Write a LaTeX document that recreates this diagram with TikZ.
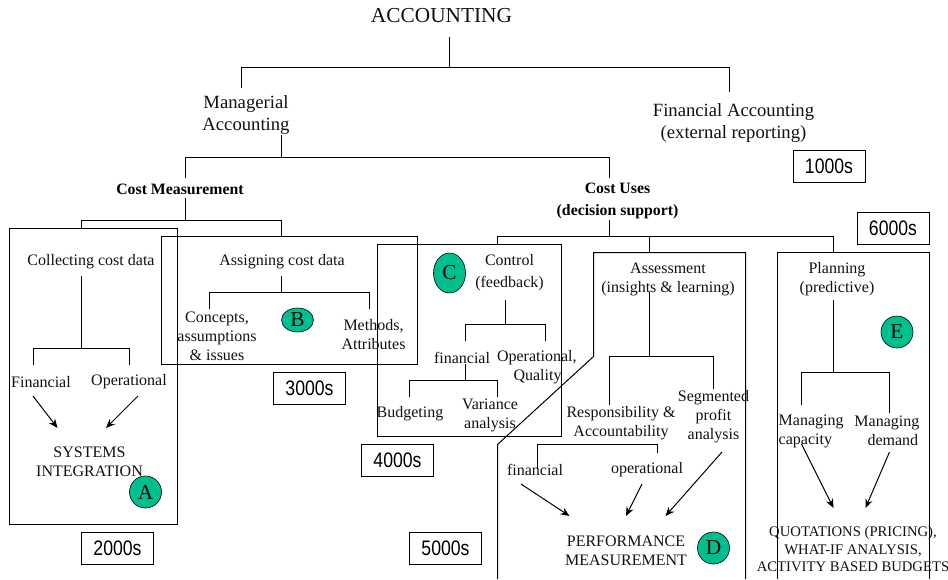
\documentclass[tikz,border=0pt]{standalone}
\usepackage{fontspec}
\setmainfont{Liberation Serif}
\newfontfamily\labelfont[FakeStretch=0.84]{Liberation Sans}
\usetikzlibrary{arrows.meta,shapes.geometric}
\definecolor{tealgreen}{HTML}{00BF8F}
\definecolor{inkc}{HTML}{111111}
\tikzset{
  txt/.style={inner sep=0pt,yshift=-1.7pt,align=center,text=inkc,font=\fontsize{16}{19}\selectfont},
  txtsm/.style={inner sep=0pt,yshift=-1pt,align=center,text=inkc,font=\fontsize{14.67}{17.5}\selectfont},
  txtlg/.style={inner sep=0pt,yshift=-2pt,align=center,text=inkc,font=\fontsize{18.67}{22}\selectfont},
  txtbold/.style={inner sep=0pt,yshift=-1.5pt,align=center,text=black,font=\fontsize{15.8}{22}\selectfont\bfseries},
  codebox/.style={draw=black,line width=1pt,minimum width=72pt,minimum height=32pt,inner sep=0pt,font=\labelfont\fontsize{21}{24}\selectfont},
  badge/.style={draw=black,fill=tealgreen,ellipse,inner sep=0pt,line width=.6pt,font=\fontsize{21.33}{24}\selectfont},
  ln/.style={draw=black,line width=1pt},
  arr/.style={draw=black,line width=1pt,-{Stealth[length=9pt,width=7.5pt]}},
  frame/.style={draw=black,line width=1pt}
}
\begin{document}
\begin{tikzpicture}[x=1pt,y=-1pt]
\useasboundingbox (0,0) rectangle (948,579);
% frames
\node[frame,minimum width=168pt,minimum height=295.5pt,inner sep=0pt] (boxA) at (93.5,376.25) {};
\node[frame,minimum width=256pt,minimum height=127.5pt,inner sep=0pt] (boxB) at (289.5,300.25) {};
\node[frame,minimum width=184pt,minimum height=191.5pt,inner sep=0pt] (boxC) at (469.5,340.25) {};
\coordinate (dA) at (497.5,579); \coordinate (dB) at (497.5,444.5); \coordinate (dC) at (593.5,356.5);
\coordinate (dD) at (593.5,252.5); \coordinate (dE) at (745.5,252.5); \coordinate (dF) at (745.5,579);
\draw[frame] (dA) -- (dB) -- (dC) -- (dD) -- (dE) -- (dF);
\coordinate (eA) at (777.5,579); \coordinate (eB) at (777.5,252.5); \coordinate (eC) at (929.5,252.5); \coordinate (eD) at (929.5,579);
\draw[frame] (eA) -- (eB) -- (eC) -- (eD);
% texts
\node[inner sep=0pt,yshift=-1pt,text=inkc,font=\fontsize{21.33}{24}\selectfont] (acc) at (441.5,15) {ACCOUNTING};
\node[txtlg] (man) at (246,113) {Managerial\\Accounting};
\node[txtlg] (fin) at (733.5,121) {Financial Accounting\\(external reporting)};
\node[txtbold] (cm) at (180,188) {Cost Measurement};
\node[txtbold] (cu) at (617.5,199) {Cost Uses\\(decision support)};
\node[txt] (coll) at (91,260) {Collecting cost data};
\node[txt] (assg) at (282,260) {Assigning cost data};
\node[txt] (conc) at (217,335) {Concepts,\\assumptions\\\& issues};
\node[txt] (meth) at (373.5,333) {Methods,\\Attributes};
\node[txt] (finA) at (41,380) {Financial};
\node[txt] (opA) at (129,380) {Operational};
\node[txt] (sys) at (89.5,460.5) {SYSTEMS\\INTEGRATION};
\node[txt] (ctl) at (509.5,271) {Control\\[3pt](feedback)};
\node[txt] (finC) at (462,356) {financial};
\node[txt] (opC) at (527,365.5) {\hphantom{Qu}Operational,\\\hspace*{21pt}Quality};
\node[txt] (bud) at (410,412) {Budgeting};
\node[txt] (var) at (490,413.5) {Variance\\analysis};
\node[txt] (ass) at (668,277.5) {Assessment\\(insights \& learning)};
\node[txt] (plan) at (837,277.5) {Planning\\(predictive)};
\node[txt] (resp) at (621,421.5) {Responsibility \&\\Accountability};
\node[txt] (seg) at (713.5,415) {Segmented\\profit\\analysis};
\node[txt] (finD) at (535,468) {financial};
\node[txt] (opD) at (647,468) {operational};
\node[txt] (perf) at (626,549.5) {PERFORMANCE\\MEASUREMENT};
\node[txt,anchor=west] (mgc) at (778.5,429.5) {\parbox{60pt}{Managing\\capacity}};
\node[txt,anchor=east] (mgd) at (919.5,429.5) {Managing\\\hspace*{12pt}demand};
\node[txtsm] (quo) at (853,548.5) {QUOTATIONS (PRICING),\\WHAT-IF ANALYSIS,\\ACTIVITY BASED BUDGETS};
% code boxes
\node[codebox] (k1) at (829,166.5) {1000s};
\node[codebox] (k2) at (117.5,548) {2000s};
\node[codebox] (k3) at (309.5,388.5) {3000s};
\node[codebox] (k4) at (397.5,460.5) {4000s};
\node[codebox] (k5) at (445.5,548) {5000s};
\node[codebox] (k6) at (893,228) {6000s};
% badges
\node[badge,minimum width=32pt,minimum height=32pt] (A) at (145.5,492) {A};
\node[badge,minimum width=32pt,minimum height=24pt] (B) at (297.5,320) {B};
\node[badge,minimum width=32pt,minimum height=40pt] (C) at (449.5,273) {C};
\node[badge,minimum width=32pt,minimum height=32pt] (D) at (713.5,548) {D};
\node[badge,minimum width=32pt,minimum height=32pt] (E) at (897,332) {E};
% tree: top
\coordinate (t0) at (449.5,37); \coordinate (t1) at (449.5,67.5);
\coordinate (t2) at (241.5,88); \coordinate (t3) at (729.5,92);
\draw[ln] (t0) -- (t1);
\draw[ln] (t2) |- (t1) -| (t3);
\coordinate (m0) at (281.5,135); \coordinate (m1) at (281.5,157.5);
\coordinate (m2) at (185.5,178); \coordinate (m3) at (609.5,178);
\draw[ln] (m0) -- (m1);
\draw[ln] (m2) |- (m1) -| (m3);
\coordinate (c0) at (185.5,198); \coordinate (c1) at (185.5,220.5);
\coordinate (c2) at (81.5,228.5); \coordinate (c3) at (281.5,236.5);
\draw[ln] (c0) -- (c1);
\draw[ln] (c2) |- (c1) -| (c3);
\coordinate (u0) at (609.5,220); \coordinate (u1) at (609.5,236.5);
\coordinate (u2) at (497.5,244.5); \coordinate (u3) at (649.5,236.5); \coordinate (u4) at (649.5,252.5); \coordinate (u5) at (833.5,252.5);
\draw[ln] (u0) -- (u1);
\draw[ln] (u2) |- (u1) -| (u5);
\draw[ln] (u3) -- (u4);
% collecting
\coordinate (a0) at (81.5,276); \coordinate (a1) at (81.5,348.5);
\coordinate (a2) at (33.5,364.5); \coordinate (a3) at (129.5,364.5);
\draw[ln] (a0) -- (a1);
\draw[ln] (a2) |- (a1) -| (a3);
\coordinate (a4) at (33,396); \coordinate (a5) at (57.5,428);
\coordinate (a6) at (138,396); \coordinate (a7) at (106,428);
\draw[arr] (a4) -- (a5);
\draw[arr] (a6) -- (a7);
% assigning
\coordinate (b0) at (281.5,276); \coordinate (b1) at (281.5,292.5);
\coordinate (b2) at (209.5,308.5); \coordinate (b3) at (369.5,308.5);
\draw[ln] (b0) -- (b1);
\draw[ln] (b2) |- (b1) -| (b3);
% control
\coordinate (g0) at (505.5,300); \coordinate (g1) at (505.5,324.5);
\coordinate (g2) at (465.5,340.5); \coordinate (g3) at (545.5,340.5);
\draw[ln] (g0) -- (g1);
\draw[ln] (g2) |- (g1) -| (g3);
\coordinate (h0) at (465.5,364); \coordinate (h1) at (465.5,380.5);
\coordinate (h2) at (409.5,396.5); \coordinate (h3) at (497.5,396.5);
\draw[ln] (h0) -- (h1);
\draw[ln] (h2) |- (h1) -| (h3);
% assessment
\coordinate (i0) at (649.5,292); \coordinate (i1) at (649.5,356.5);
\coordinate (i2) at (609.5,404.5); \coordinate (i3) at (713.5,388.5);
\draw[ln] (i0) -- (i1);
\draw[ln] (i2) |- (i1) -| (i3);
\coordinate (j1) at (537.5,468.5); \coordinate (j2) at (657.5,452.5); \coordinate (j3) at (597.5,444.5);
\draw[ln] (j1) |- (j3) -| (j2);
\coordinate (p1) at (521,484); \coordinate (p2) at (569.5,516);
\coordinate (p3) at (642,484); \coordinate (p4) at (626,516);
\coordinate (p5) at (722,452); \coordinate (p6) at (665.5,516);
\draw[arr] (p1) -- (p2);
\draw[arr] (p3) -- (p4);
\draw[arr] (p5) -- (p6);
% planning
\coordinate (l0) at (833.5,300); \coordinate (l1) at (833.5,372.5);
\coordinate (l2) at (801.5,404.5); \coordinate (l3) at (889.5,412.5);
\draw[ln] (l0) -- (l1);
\draw[ln] (l2) |- (l1) -| (l3);
\coordinate (q1) at (801.5,444); \coordinate (q2) at (833.5,508);
\coordinate (q3) at (889.5,452); \coordinate (q4) at (865.5,508);
\draw[arr] (q1) -- (q2);
\draw[arr] (q3) -- (q4);
\end{tikzpicture}
\end{document}
